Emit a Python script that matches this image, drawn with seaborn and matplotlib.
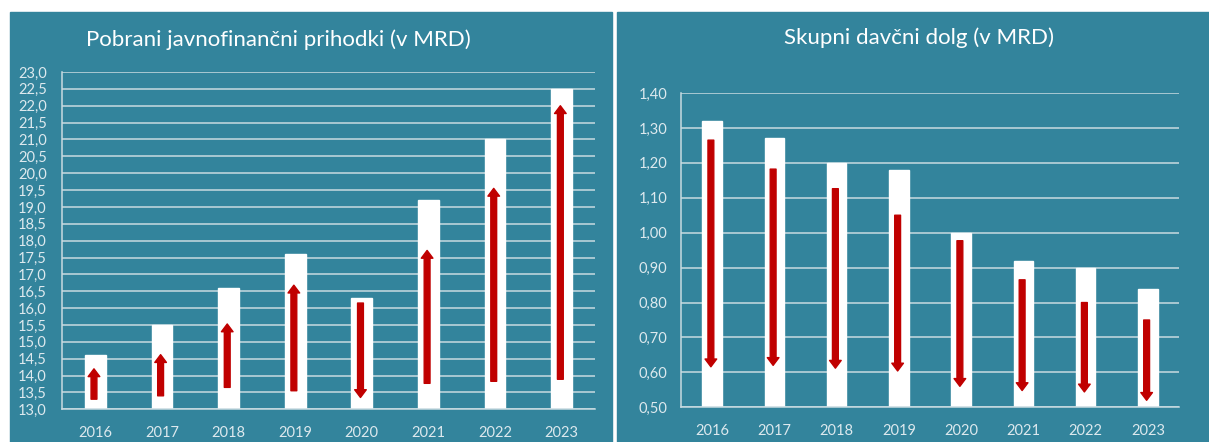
import matplotlib
matplotlib.use("Agg")
import matplotlib.pyplot as plt
from matplotlib.patches import Rectangle
import seaborn as sns
import pandas as pd

# data
years = ["2016", "2017", "2018", "2019", "2020", "2021", "2022", "2023"]
prihodki = [14.6, 15.5, 16.6, 17.6, 16.3, 19.2, 21.0, 22.5]
prihodki_arrow_from = [13.3, 13.4, 13.65, 13.55, 16.15, 13.77, 13.83, 13.89]
prihodki_arrow_to = [14.2, 14.62, 15.53, 16.68, 13.35, 17.71, 19.55, 22.0]

dolg = [1.32, 1.27, 1.20, 1.18, 1.00, 0.92, 0.90, 0.84]
dolg_arrow_from = [1.265, 1.182, 1.126, 1.05, 0.977, 0.865, 0.80, 0.75]
dolg_arrow_to = [0.616, 0.62, 0.612, 0.604, 0.56, 0.548, 0.544, 0.52]

prihodki_ticks = [13.0 + 0.5 * i for i in range(21)]
dolg_ticks = [0.5 + 0.1 * i for i in range(10)]

TEAL = "#33849c"
LIGHT = "#dde9ee"
GRID = "#c9dbe1"
RED = "#c00000"

sns.set_style("white")
plt.rcParams["font.family"] = ["Lato", "DejaVu Sans"]

W, H = 1209, 442
fig = plt.figure(figsize=(W / 100, H / 100), dpi=100, facecolor="white")

# teal panels and the white separator
fig.patches.append(Rectangle((10 / W, 0), (612.5 - 10) / W, 1 - 12 / H,
                             transform=fig.transFigure, color=TEAL, zorder=-5))
fig.patches.append(Rectangle((616.5 / W, 0), (1209 - 616.5) / W, 1 - 12 / H,
                             transform=fig.transFigure, color=TEAL, zorder=-5))


def draw_panel(rect, values, a_from, a_to, ticks, fmt, title, title_xy, pad):
    ax = fig.add_axes(rect)
    ax.set_facecolor("none")
    df = pd.DataFrame({"leto": years, "vrednost": values})
    sns.barplot(data=df, x="leto", y="vrednost", color="white", width=0.31,
                saturation=1, ax=ax, zorder=2)
    for i, (a, b) in enumerate(zip(a_from, a_to)):
        ax.annotate("", xy=(i - 0.02, b), xytext=(i - 0.02, a),
                    arrowprops=dict(arrowstyle="simple,head_length=0.28,head_width=0.42,tail_width=0.21",
                                    mutation_scale=20, color=RED, shrinkA=0, shrinkB=0),
                    zorder=3)
    ax.set_ylim(ticks[0], ticks[-1])
    ax.set_xlim(-0.5, 7.5)
    ax.set_yticks(ticks)
    ax.set_yticklabels([fmt.format(t).replace(".", ",") for t in ticks])
    ax.grid(axis="y", color=GRID, lw=1.1, zorder=1)
    ax.set_axisbelow(True)
    for s in ["top", "right"]:
        ax.spines[s].set_visible(False)
    for s in ["left", "bottom"]:
        ax.spines[s].set_color(GRID)
        ax.spines[s].set_linewidth(1.1)
    ax.tick_params(axis="y", length=0, pad=pad, labelcolor=LIGHT, labelsize=10.5)
    ax.tick_params(axis="x", length=0, pad=12, labelcolor=LIGHT, labelsize=10.5)
    ax.set_xlabel("")
    ax.set_ylabel("")
    fig.text(title_xy[0] / W, 1 - title_xy[1] / H, title, color="white",
             fontsize=16, ha="center", va="center")
    return ax


draw_panel([62 / W, 1 - 409.3 / H, 533 / W, (409.3 - 72) / H],
           prihodki, prihodki_arrow_from, prihodki_arrow_to, prihodki_ticks,
           "{:.1f}", "Pobrani javnofinančni prihodki (v MRD)", (278, 40), 11)

draw_panel([681 / W, 1 - 407.3 / H, 498 / W, (407.3 - 93) / H],
           dolg, dolg_arrow_from, dolg_arrow_to, dolg_ticks,
           "{:.2f}", "Skupni davčni dolg (v MRD)", (919, 38), 10)

fig.savefig("out.png", dpi=100, facecolor="white")
